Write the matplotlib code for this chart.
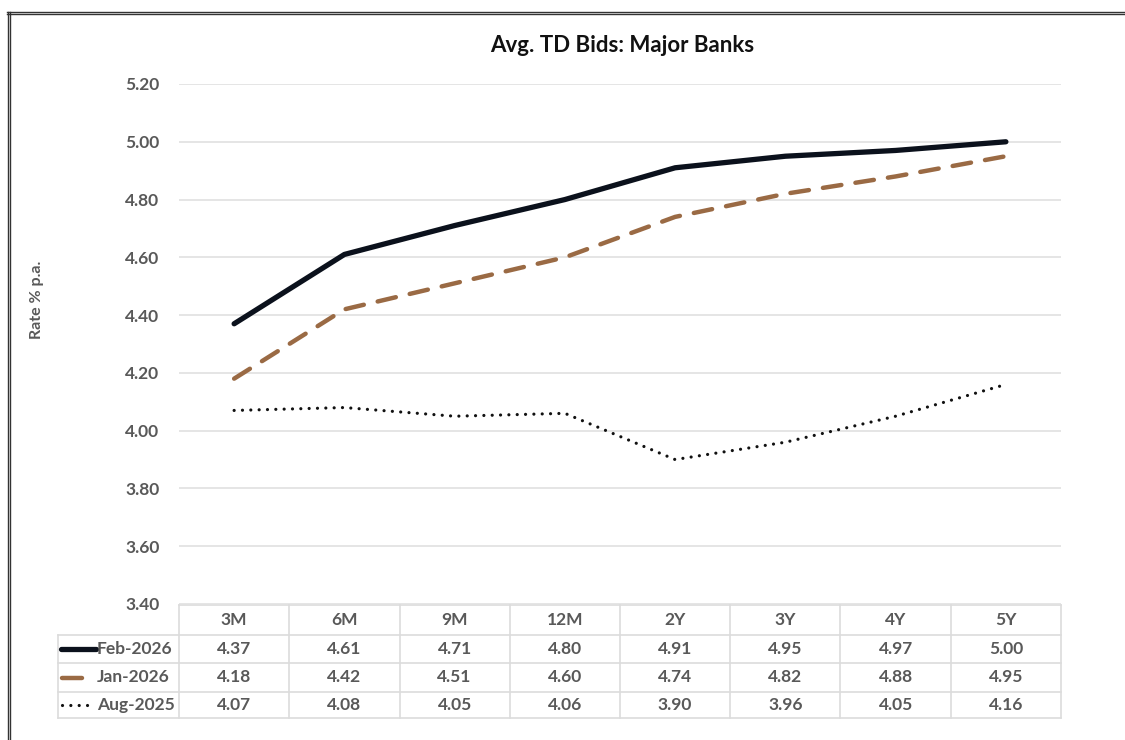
import matplotlib
matplotlib.use("Agg")
import matplotlib.pyplot as plt
from matplotlib.lines import Line2D

# Tenors and average term-deposit bids (% p.a.)
tenors = ["3M", "6M", "9M", "12M", "2Y", "3Y", "4Y", "5Y"]
series_names = ["Feb-2026", "Jan-2026", "Aug-2025"]
feb_2026 = [4.37, 4.61, 4.71, 4.80, 4.91, 4.95, 4.97, 5.00]
jan_2026 = [4.18, 4.42, 4.51, 4.60, 4.74, 4.82, 4.88, 4.95]
aug_2025 = [4.07, 4.08, 4.05, 4.06, 3.90, 3.96, 4.05, 4.16]
y_ticks = [3.40, 3.60, 3.80, 4.00, 4.20, 4.40, 4.60, 4.80, 5.00, 5.20]

W, H = 1125, 740
plt.rcParams["font.family"] = ["Lato", "DejaVu Sans"]
TXT = "#595959"

fig = plt.figure(figsize=(W / 100, H / 100), dpi=100)
fig.patch.set_facecolor("white")

def fx(px):
    return px / W

def fy(py):
    return 1 - py / H

# plot area in pixel coordinates
x0, x1 = 179, 1061
y_top, y_bot = 84, 604
ax = fig.add_axes([fx(x0), fy(y_bot), fx(x1 - x0), (y_bot - y_top) / H])
ax.set_xlim(-0.5, len(tenors) - 0.5)
ax.set_ylim(y_ticks[0], y_ticks[-1])
ax.set_yticks(y_ticks)
ax.set_yticklabels([f"{t:.2f}" for t in y_ticks], fontsize=12.5,
                   fontweight="bold", color=TXT)
ax.set_xticks([])
ax.tick_params(axis="y", length=0, pad=14)
for s in ax.spines.values():
    s.set_visible(False)
ax.grid(axis="y", color="#e3e3e3", lw=1.3)
ax.set_axisbelow(True)

x = list(range(len(tenors)))
styles = [
    dict(color="#0b111c", lw=3.8, ls="-", solid_capstyle="round"),
    dict(color="#9a6a44", lw=3.2, ls=(0, (4.2, 3.2)), dash_capstyle="round"),
    dict(color="#111111", lw=2.3, ls=(0, (0.01, 2.6)), dash_capstyle="round"),
]
all_series = [feb_2026, jan_2026, aug_2025]
for vals, st in zip(all_series, styles):
    ax.plot(x, vals, zorder=3, **st)

ax.set_ylabel("Rate % p.a.", fontsize=11.5, fontweight="bold", color=TXT,
              labelpad=0)
ax.yaxis.set_label_coords(fx(44 - x0) / fx(x1 - x0), (y_bot - 300) / (y_bot - y_top))

fig.text(fx(622), fy(45), "Avg. TD Bids: Major Banks", ha="center",
         va="center", fontsize=16, fontweight="bold", color="#111111")

# data table under the plot
grid_c = "#dcdcdc"
col_w = (x1 - x0) / len(tenors)
row_edges = [605, 635, 663, 692, 718]
label_x0 = 58

def hline(xa, xb, yy):
    fig.add_artist(Line2D([fx(xa), fx(xb)], [fy(yy), fy(yy)], color=grid_c, lw=1.2))

def vline(xx, ya, yb):
    fig.add_artist(Line2D([fx(xx), fx(xx)], [fy(ya), fy(yb)], color=grid_c, lw=1.2))

hline(x0, x1, row_edges[0])
for yy in row_edges[1:]:
    hline(label_x0, x1, yy)
vline(label_x0, row_edges[1], row_edges[-1])
for i in range(len(tenors) + 1):
    vline(x0 + i * col_w, row_edges[0], row_edges[-1])

for i, t in enumerate(tenors):
    cx = x0 + (i + 0.5) * col_w
    fig.text(fx(cx), fy((row_edges[0] + row_edges[1]) / 2), t, ha="center",
             va="center", fontsize=12.5, fontweight="bold", color=TXT)
    for r, vals in enumerate(all_series):
        cy = (row_edges[r + 1] + row_edges[r + 2]) / 2
        fig.text(fx(cx), fy(cy), f"{vals[i]:.2f}", ha="center", va="center",
                 fontsize=12.5, fontweight="bold", color=TXT)

# legend keys and series names in the first column
key_spans = [(61, 96), (62, 82), (62, 92)]
for r, (name, st, (ka, kb)) in enumerate(zip(series_names, styles, key_spans)):
    cy = (row_edges[r + 1] + row_edges[r + 2]) / 2
    key = dict(st)
    if r == 1:
        key["ls"] = "-"
        key["solid_capstyle"] = "round"
        key.pop("dash_capstyle")
    fig.add_artist(Line2D([fx(ka), fx(kb)], [fy(cy), fy(cy)], **key))
    fig.text(fx(97), fy(cy), name, ha="left", va="center", fontsize=12.5,
             fontweight="bold", color=TXT)

# double frame along the top and left edges
for yy in (11.5, 14):
    fig.add_artist(Line2D([fx(7), 1], [fy(yy), fy(yy)], color="#333333", lw=1.0))
for xx in (7.5, 10):
    fig.add_artist(Line2D([fx(xx), fx(xx)], [fy(11.5), 0], color="#333333", lw=1.0))

fig.savefig("out.png", dpi=100, facecolor="white")
